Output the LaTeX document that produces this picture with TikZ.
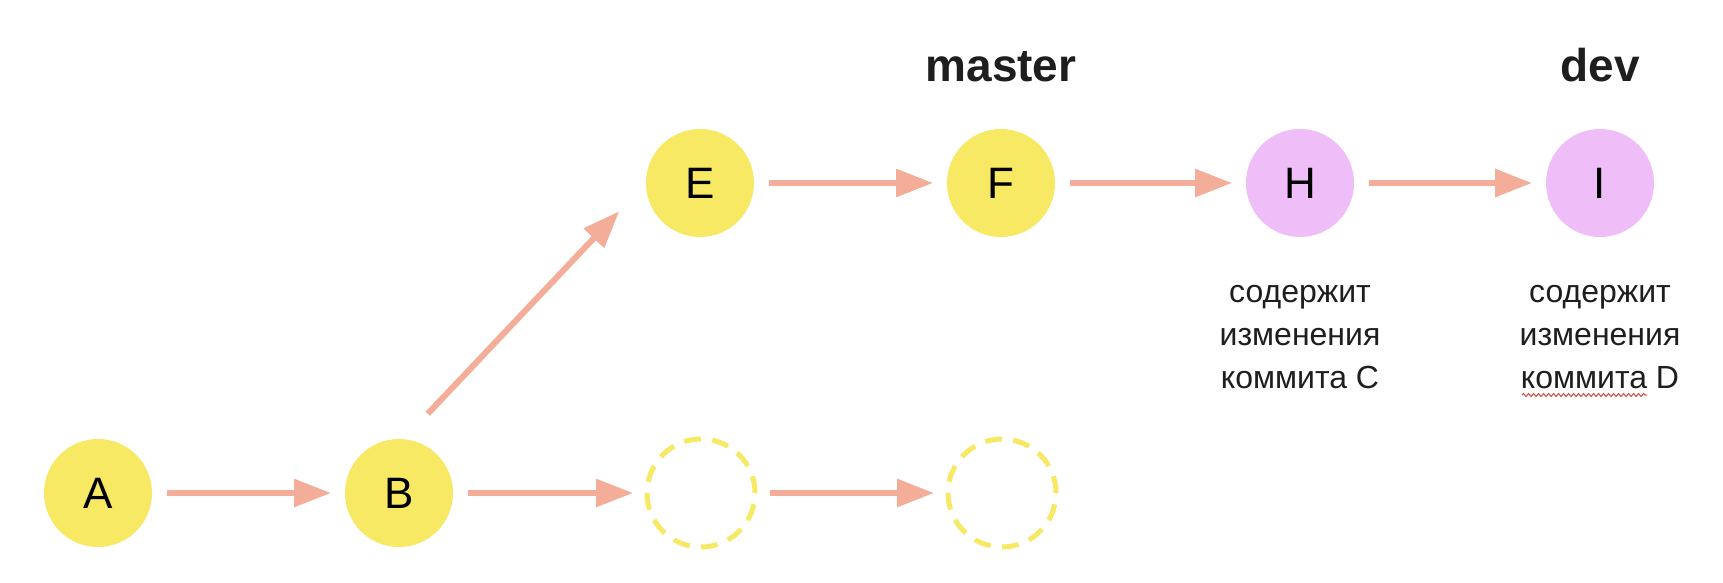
\documentclass[tikz,border=0pt]{standalone}
\usepackage{fontspec}
\setmainfont{Liberation Sans}
\usetikzlibrary{arrows.meta,decorations.pathmorphing,calc}
\definecolor{cyel}{HTML}{F8E964}
\definecolor{cpink}{HTML}{EFBDF8}
\definecolor{carrow}{HTML}{F3AD98}
\definecolor{cdark}{HTML}{1E1E1E}
\definecolor{cred}{HTML}{D84A3C}
\begin{document}
\begin{tikzpicture}[x=1pt,y=-1pt,
 commit/.style={circle,minimum size=108pt,inner sep=0pt,outer sep=0pt,font=\fontsize{44}{50}\selectfont,text=black},
 yel/.style={commit,fill=cyel},
 pnk/.style={commit,fill=cpink},
 ghost/.style={commit,draw=cyel,line width=5pt,dash pattern=on 17pt off 11.25pt},
 link/.style={draw=carrow,line width=6pt,-{Triangle[length=37pt,width=27pt]},shorten <=15pt,shorten >=14pt},
 branch/.style={font=\fontsize{46}{50}\selectfont\bfseries,text=cdark,anchor=base,inner sep=0pt},
 note/.style={font=\fontsize{32}{43}\selectfont,text=cdark,align=center,anchor=base,inner sep=0pt}]
\useasboundingbox (0,0) rectangle (1723,583);
\fill[white] (0,0) rectangle (1723,583);
% commits
\node[yel] (A) at (98,493) {A};
\node[yel] (B) at (399,493) {B};
\node[ghost] (C) at (701,493) {};
\node[ghost] (D) at (1002,493) {};
\node[yel] (E) at (700,183) {E};
\node[yel] (F) at (1001,183) {F};
\node[pnk] (H) at (1300,183) {H};
\node[pnk] (I) at (1600,183) {I};
% branch labels
\node[branch] (master) at (1001,82) {master};
\node[branch] (dev) at (1600,82) {dev};
% notes (anchor base = last line)
\node[note] (hnote) at (1300,388) {содержит\\изменения\\коммита C};
\node[note] (inote) at (1600,388) {содержит\\изменения\\коммита D};
% connectors
\draw[link] (A) -- (B);
\draw[link] (B) -- (C);
\draw[link] (C) -- (D);
\draw[link] (E) -- (F);
\draw[link] (F) -- (H);
\draw[link] (H) -- (I);
\draw[link,shorten <=35pt,shorten >=39pt] (B.85) -- (E.180);
% spell-check squiggle
\draw[cred,line width=1pt,decorate,decoration={snake,amplitude=1.5pt,segment length=5pt}] (1522,395) -- (1647,395);
\end{tikzpicture}
\end{document}
